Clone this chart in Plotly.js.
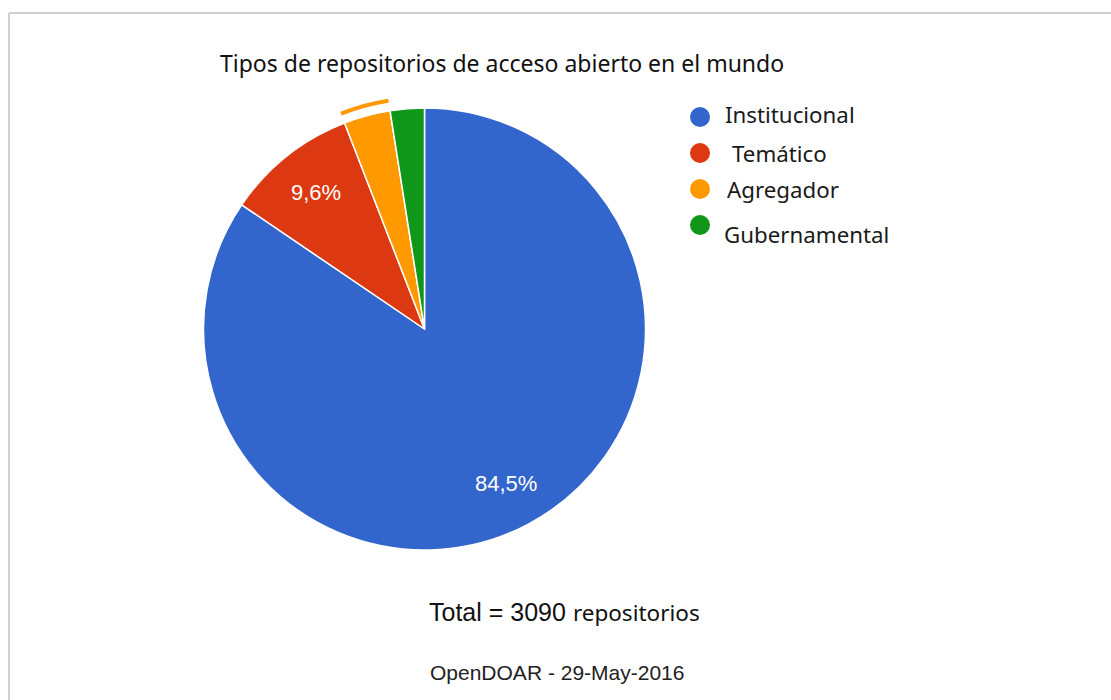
<!DOCTYPE html>
<html>
<head>
<meta charset="utf-8">
<script src="https://cdn.plot.ly/plotly-3.0.1.min.js"></script>
<style>html,body{margin:0;padding:0;background:#fff;}#chart{width:1111px;height:700px;}</style>
</head>
<body>
<div id="chart"></div>
<script>
// ---- data ----
var categories = ["Institucional", "Temático", "Agregador", "Gubernamental"];
var counts = [2611, 297, 105, 77];
var colors = ["#3366cc", "#dc3912", "#ff9900", "#109618"];
var chartTitle = "Tipos de repositorios de acceso abierto en el mundo";
var totalLabel = "Total = 3090";
var totalUnit = "repositorios";
var sourceLabel = "OpenDOAR - 29-May-2016";
var highlighted = "Agregador";

// ---- layout helpers (pixel -> paper) ----
var W = 1111, H = 700;
function px(x) { return x / W; }
function py(y) { return 1 - y / H; }
var cx = 424.5, cy = 329, R = 221;
var FONT = "Noto Sans, DejaVu Sans, sans-serif";

var total = counts.reduce(function (a, b) { return a + b; }, 0);

var pie = {
  type: "pie",
  labels: categories,
  values: counts,
  sort: false,
  direction: "clockwise",
  rotation: 0,
  marker: { colors: colors, line: { color: "#ffffff", width: 1.5 } },
  textinfo: "none",
  hoverinfo: "label+percent",
  showlegend: false,
  domain: { x: [px(cx - R), px(cx + R)], y: [py(cy + R), py(cy - R)] }
};

// hover-highlight ring around the selected slice
var Rr = 233;
var ring = {
  type: "pie",
  labels: categories,
  values: counts,
  sort: false,
  direction: "clockwise",
  rotation: 0,
  hole: 229 / Rr,
  marker: {
    colors: categories.map(function (c, i) { return c === highlighted ? colors[i] : "rgba(0,0,0,0)"; }),
    line: { width: 0 }
  },
  textinfo: "none",
  hoverinfo: "skip",
  showlegend: false,
  domain: { x: [px(cx - Rr), px(cx + Rr)], y: [py(cy + Rr), py(cy - Rr)] }
};

var annotations = [];
var shapes = [];

// slice percentage labels (computed from values)
var cum = 0;
counts.forEach(function (v, i) {
  var frac = v / total;
  var theta = 2 * Math.PI * (cum + frac / 2);
  cum += frac;
  if (frac >= 0.05) {
    var lx = cx + 0.79 * R * Math.sin(theta);
    var ly = cy - 0.79 * R * Math.cos(theta);
    annotations.push({
      xref: "paper", yref: "paper", x: px(lx), y: py(ly),
      text: (frac * 100).toFixed(1).replace(".", ",") + "%",
      showarrow: false, xanchor: "center", yanchor: "middle",
      font: { family: "Arial, Liberation Sans, sans-serif", size: 22, color: "#ffffff" }
    });
  }
});

// legend (circles + labels)
var legY0 = 117, legStep = 36, legCx = 700, dotR = 10;
var textDx = [23, 30, 25, 22];
var textDy = [-2, 0, 1, 9];
categories.forEach(function (c, i) {
  var yc = legY0 + i * legStep;
  shapes.push({
    type: "circle", xref: "paper", yref: "paper",
    x0: px(legCx - dotR), x1: px(legCx + dotR), y0: py(yc + dotR), y1: py(yc - dotR),
    fillcolor: colors[i], line: { width: 0 }
  });
  annotations.push({
    xref: "paper", yref: "paper", x: px(legCx + textDx[i]), y: py(yc + textDy[i]),
    text: c, showarrow: false, xanchor: "left", yanchor: "middle",
    font: { family: FONT, size: 22.3, color: "#1a1a1a" }
  });
});

// title
annotations.push({
  xref: "paper", yref: "paper", x: px(218), y: py(63),
  text: chartTitle, showarrow: false, xanchor: "left", yanchor: "middle",
  font: { family: FONT, size: 23, color: "#111111" }
});

// total
annotations.push({
  xref: "paper", yref: "paper", x: px(564), y: py(612),
  text: totalLabel + " <span style=\"font-family:'Noto Sans';font-size:22.5px\">" + totalUnit + "</span>",
  showarrow: false, xanchor: "center", yanchor: "middle",
  font: { family: "Arial, Liberation Sans, sans-serif", size: 25, color: "#111111" }
});

// source
annotations.push({
  xref: "paper", yref: "paper", x: px(557), y: py(672),
  text: sourceLabel, showarrow: false, xanchor: "center", yanchor: "middle",
  font: { family: "Arial, Liberation Sans, sans-serif", size: 21, color: "#222222" }
});

// frame border
shapes.push({ type: "line", xref: "paper", yref: "paper", x0: px(9), x1: 1, y0: py(13), y1: py(13), line: { color: "#d0d0d0", width: 2 } });
shapes.push({ type: "line", xref: "paper", yref: "paper", x0: px(9), x1: px(9), y0: py(13), y1: 0, line: { color: "#d0d0d0", width: 2 } });

var layout = {
  width: W, height: H,
  margin: { l: 0, r: 0, t: 0, b: 0, pad: 0 },
  paper_bgcolor: "#ffffff",
  showlegend: false,
  annotations: annotations,
  shapes: shapes
};

Plotly.newPlot("chart", [ring, pie], layout, { displayModeBar: false, staticPlot: true });
</script>
</body>
</html>
